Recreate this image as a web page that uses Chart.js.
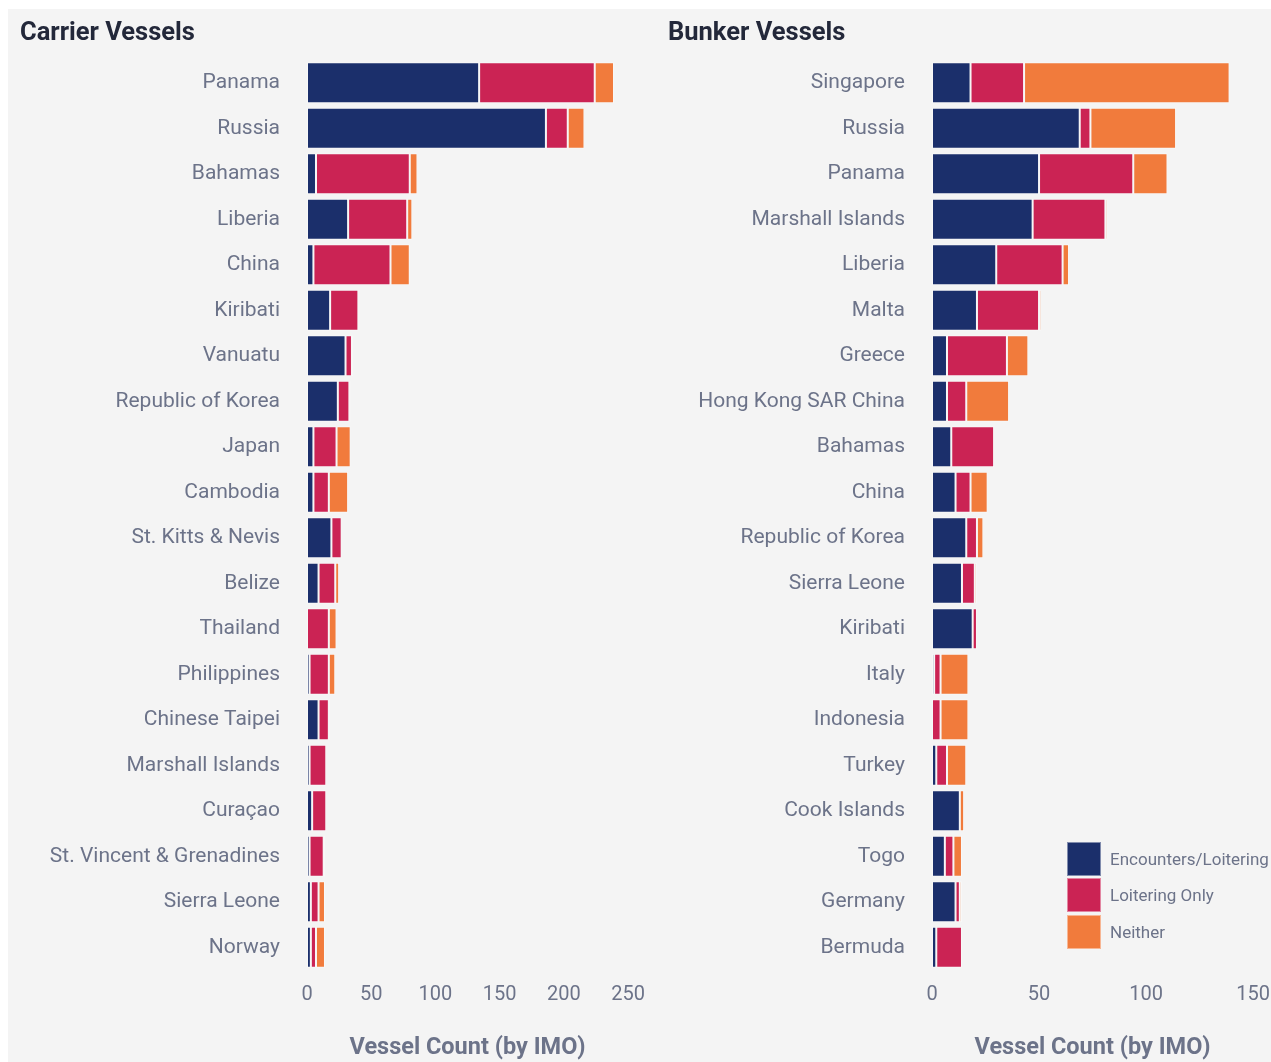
<!DOCTYPE html>
<html>
<head>
<meta charset="utf-8">
<script src="https://cdn.jsdelivr.net/npm/chart.js@4"></script>
<style>
    body { margin: 0; background: #fff; font-family: Roboto, sans-serif; overflow: hidden; }
    #panel { position: absolute; left: 8px; top: 9px; width: 1263px; height: 1053px; background: #f4f4f4; }
    .box { position: absolute; top: 9px; height: 1053px; }
    #legend { position: absolute; left: 1067px; top: 842px; }
    .item { display: flex; align-items: center; height: 33px; margin-bottom: 3.5px; }
    .sw { width: 32px; height: 32px; border: 1px solid rgba(255,255,255,0.45); margin-right: 9px; }
    .item span { font-size: 17px; color: #6c7389; }
</style>
</head>
<body>
<div id="panel"></div>
<div class="box" style="left:8px;width:650px"><canvas id="carrier"></canvas></div>
<div class="box" style="left:650px;width:633px"><canvas id="bunker"></canvas></div>
<div id="legend"></div>

<script>
const seriesNames = ["Encounters/Loitering", "Loitering Only", "Neither"]
const colors = ["#1b2f6b", "#cb2354", "#f17b3c"]

const carrierLabels = ["Panama", "Russia", "Bahamas", "Liberia", "China", "Kiribati", "Vanuatu",
    "Republic of Korea", "Japan", "Cambodia", "St. Kitts & Nevis", "Belize", "Thailand",
    "Philippines", "Chinese Taipei", "Marshall Islands", "Curaçao", "St. Vincent & Grenadines",
    "Sierra Leone", "Norway"]
const carrierEncounters = [134, 186, 7, 32, 5, 18, 30, 24, 5, 5, 19, 9, 0, 2, 9, 2, 4, 2, 3, 3]
const carrierLoitering  = [90, 17, 73, 46, 60, 22, 5, 9, 18, 12, 8, 13, 17, 15, 8, 13, 11, 11, 6, 4]
const carrierNeither    = [15, 13, 6, 4, 15, 1, 1, 1, 11, 15, 0, 3, 6, 5, 1, 0, 0, 1, 5, 7]
const carrierTicks = [0, 50, 100, 150, 200, 250]

const bunkerLabels = ["Singapore", "Russia", "Panama", "Marshall Islands", "Liberia", "Malta",
    "Greece", "Hong Kong SAR China", "Bahamas", "China", "Republic of Korea", "Sierra Leone",
    "Kiribati", "Italy", "Indonesia", "Turkey", "Cook Islands", "Togo", "Germany", "Bermuda"]
const bunkerEncounters = [18, 69, 50, 47, 30, 21, 7, 7, 9, 11, 16, 14, 19, 1, 0, 2, 13, 6, 11, 2]
const bunkerLoitering  = [25, 5, 44, 34, 31, 29, 28, 9, 20, 7, 5, 6, 2, 3, 4, 5, 0, 4, 2, 12]
const bunkerNeither    = [96, 40, 16, 1, 3, 1, 10, 20, 0, 8, 3, 1, 0, 13, 13, 9, 2, 4, 1, 0]
const bunkerTicks = [0, 50, 100, 150]

const labelColor = "#6c7389"

function makeChart(id, title, labels, series, ticks, padLeft, yWidth) {
    const box = document.getElementById(id).parentNode
    const canvas = document.getElementById(id)
    canvas.width = box.clientWidth
    canvas.height = box.clientHeight

    return new Chart(canvas, {
        type: "bar",
        data: {
            labels: labels,
            datasets: series.map((values, i) => ({
                label: seriesNames[i],
                data: values,
                backgroundColor: colors[i],
                borderColor: "rgba(255,255,255,0.35)",
                borderWidth: 1,
                borderSkipped: false,
                categoryPercentage: 0.9,
                barPercentage: 1
            }))
        },
        options: {
            indexAxis: "y",
            responsive: false,
            animation: false,
            layout: { padding: { left: padLeft, right: 0, top: 0, bottom: 0 } },
            plugins: {
                legend: { display: false },
                tooltip: { enabled: false },
                title: {
                    display: true,
                    text: title,
                    align: "start",
                    color: "#23283a",
                    font: { family: "Roboto", size: 25.5, weight: "bold" },
                    padding: { top: 9, bottom: 11.5 }
                }
            },
            scales: {
                x: {
                    stacked: true,
                    min: ticks[0],
                    max: ticks[ticks.length - 1],
                    afterBuildTicks: scale => { scale.ticks = ticks.map(v => ({ value: v })) },
                    afterFit: scale => { scale.height = 92 },
                    grid: { display: false, drawTicks: false },
                    border: { display: false },
                    ticks: { color: labelColor, padding: 13, font: { family: "Roboto", size: 20 } },
                    title: {
                        display: true,
                        text: "Vessel Count (by IMO)",
                        color: labelColor,
                        font: { family: "Roboto", size: 23.5, weight: "bold" },
                        padding: { top: 0, bottom: 0 }
                    }
                },
                y: {
                    stacked: true,
                    afterFit: scale => { scale.width = yWidth },
                    grid: { display: false, drawTicks: false },
                    border: { display: false },
                    ticks: { color: labelColor, padding: 27, autoSkip: false, font: { family: "Roboto", size: 21 } }
                }
            }
        }
    })
}

makeChart("carrier", "Carrier Vessels", carrierLabels,
    [carrierEncounters, carrierLoitering, carrierNeither], carrierTicks, 12, 287)
makeChart("bunker", "Bunker Vessels", bunkerLabels,
    [bunkerEncounters, bunkerLoitering, bunkerNeither], bunkerTicks, 18, 264)

// legend sits inside the bunker plot, bottom right
const legend = document.getElementById("legend")
seriesNames.forEach((name, i) => {
    const row = document.createElement("div")
    row.className = "item"
    row.innerHTML = '<div class="sw" style="background:' + colors[i] + '"></div><span>' + name + '</span>'
    legend.appendChild(row)
})
</script>
</body>
</html>
